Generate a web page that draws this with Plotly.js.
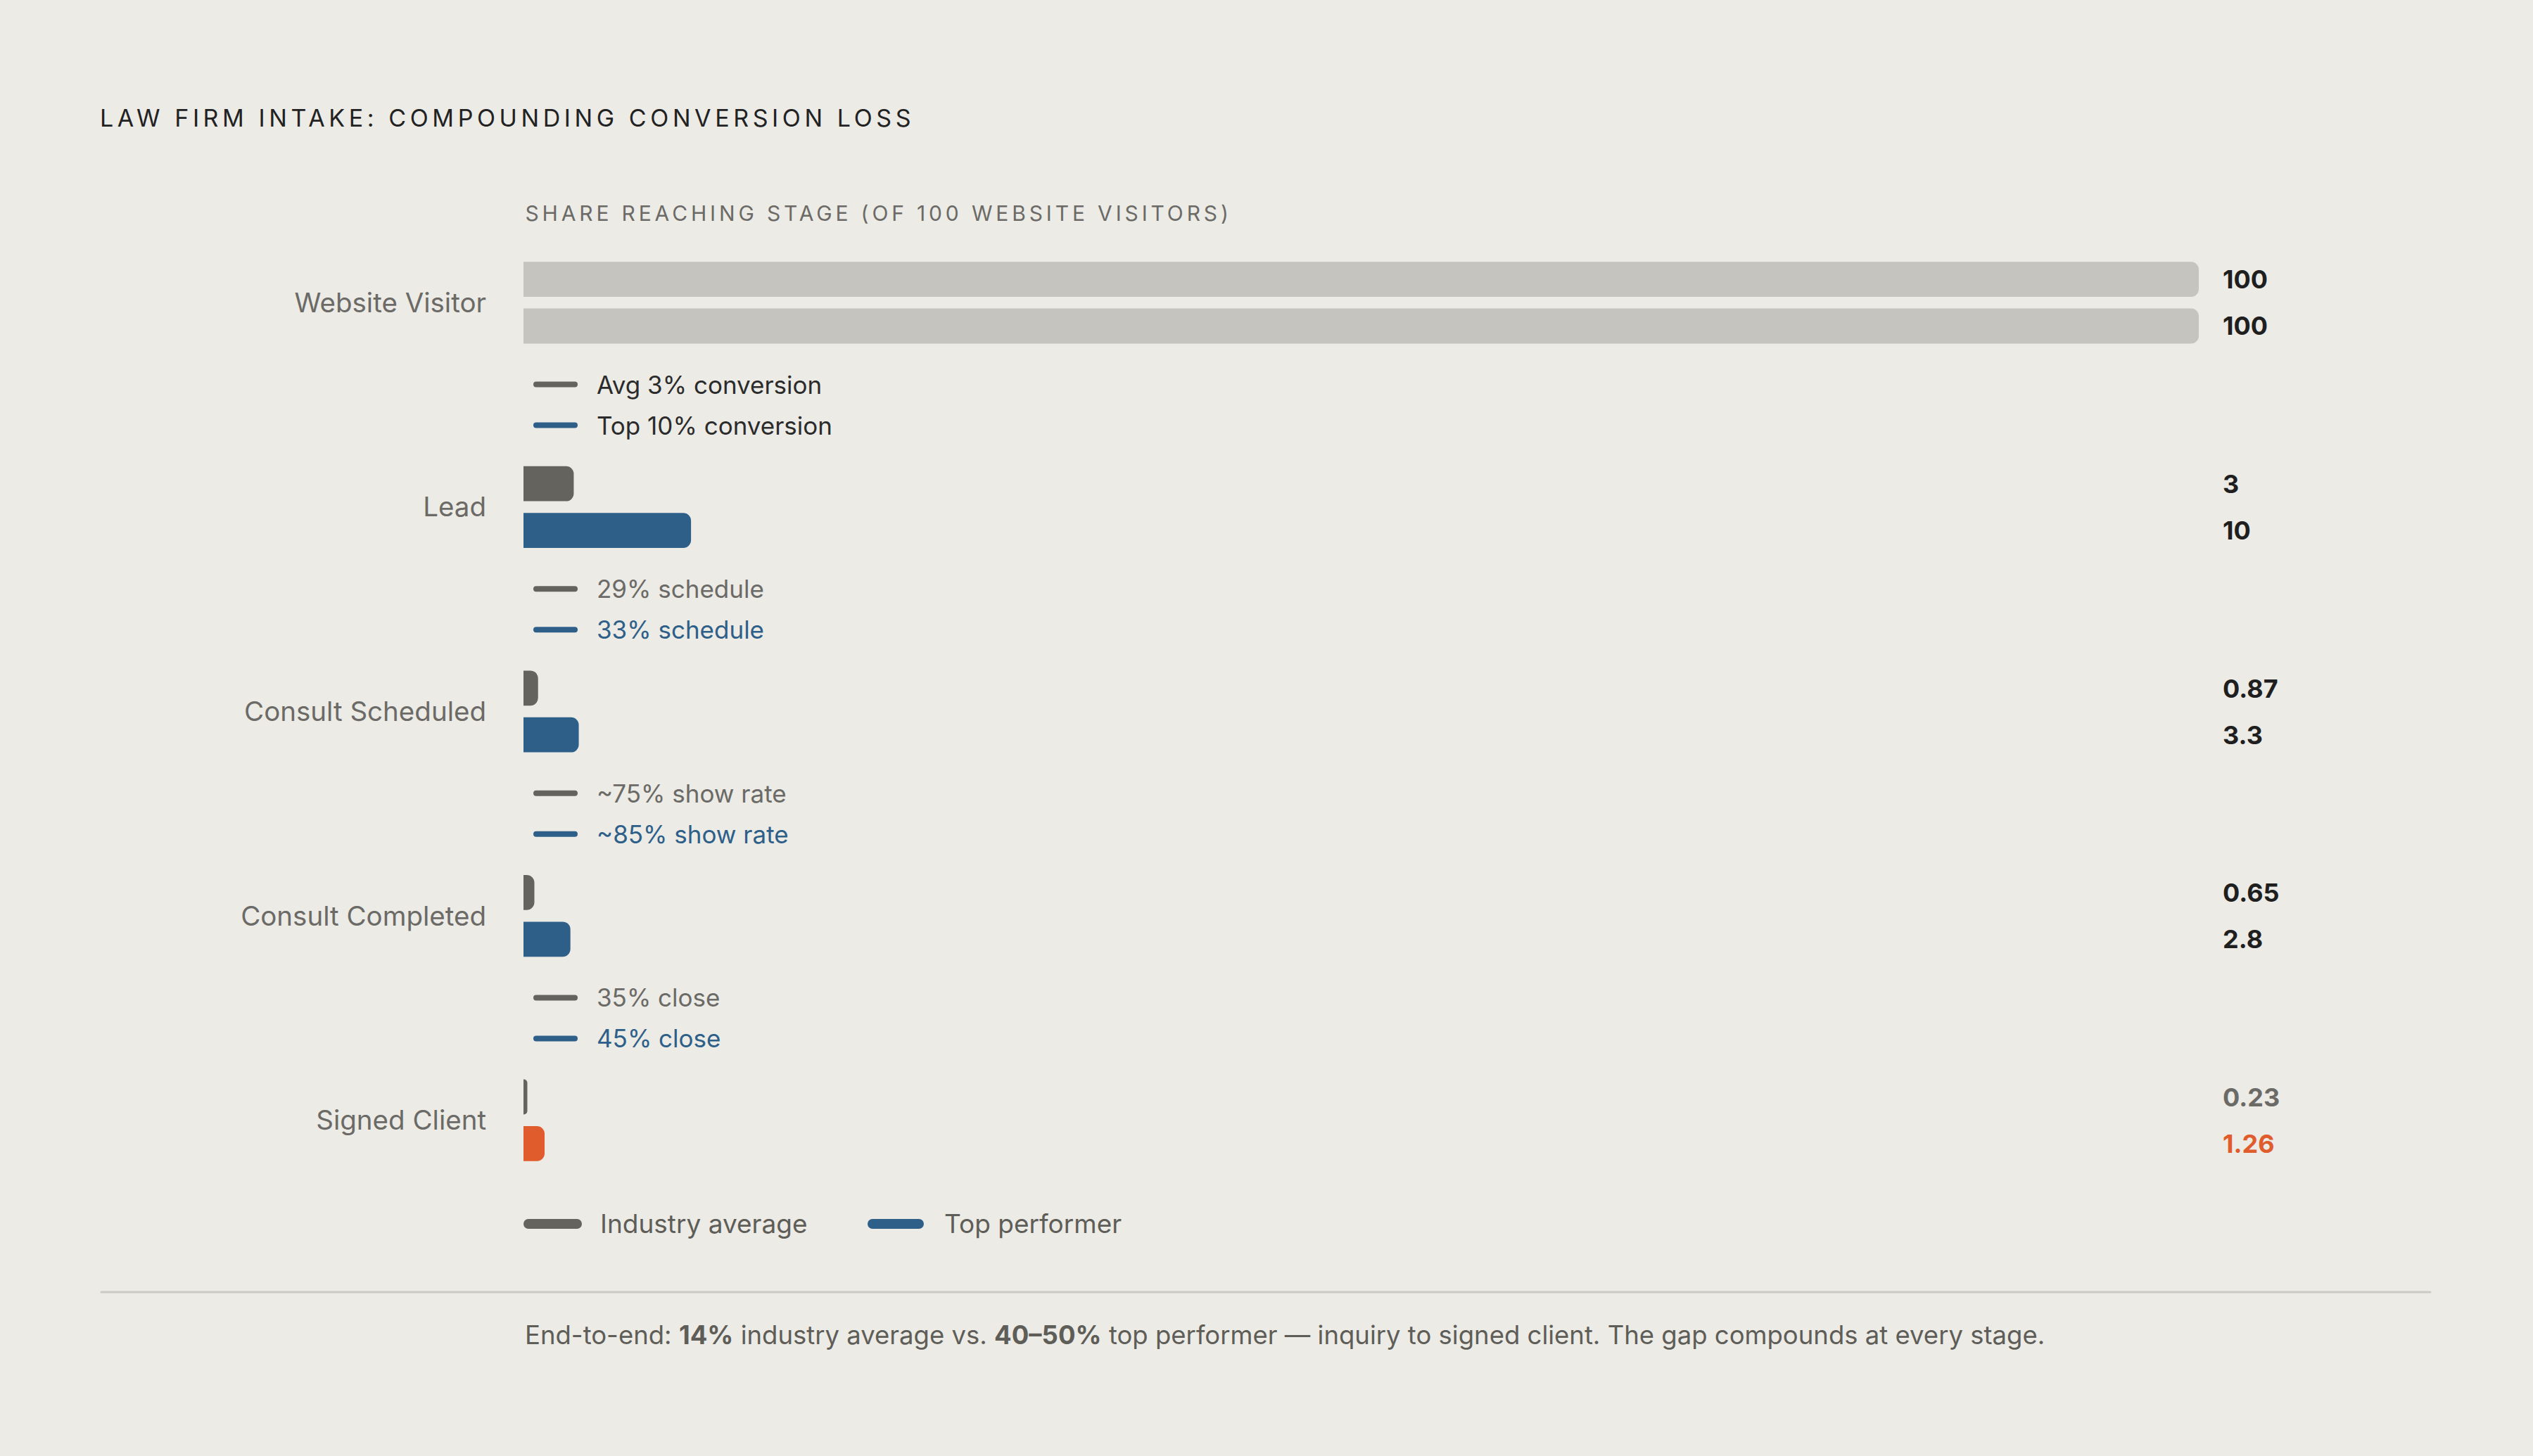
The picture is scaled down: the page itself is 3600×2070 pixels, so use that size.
<!DOCTYPE html>
<html>
<head>
<meta charset="utf-8">
<script src="https://cdn.plot.ly/plotly-3.0.1.min.js"></script>
<style>
  html, body { margin: 0; padding: 0; background: #ecebe6; }
  #plot { width: 3600px; height: 2070px; }
  .gtitle { letter-spacing: 5.6px; }
  .annotation[data-index="0"] text { letter-spacing: 4.85px; }
  .shapelayer path { stroke-linecap: round; }
</style>
</head>
<body>
<div id="plot"></div>
<script>
// funnel stages, share of 100 website visitors
var stages = ['Website Visitor', 'Lead', 'Consult Scheduled', 'Consult Completed', 'Signed Client'];
var industryAvg = [100, 3, 0.87, 0.65, 0.23];
var topPerformer = [100, 10, 3.3, 2.8, 1.26];
var seriesNames = ['Industry average', 'Top performer'];

// step conversion notes between stages
var avgSteps = ['Avg 3% conversion', '29% schedule', '~75% show rate', '35% close'];
var topSteps = ['Top 10% conversion', '33% schedule', '~85% show rate', '45% close'];

var W = 3600, H = 2070;
var L = 744, R = 3125, T = 285, B = 1738;

var BG = '#ecebe6';
var GRAY = '#64635d';
var BLUE = '#2e5f89';
var ORANGE = '#e05c2c';
var LIGHT = '#c5c4bf';
var TEXT = '#6b6a66';
var DARK = '#1f1f1f';
var FONT = 'Inter, "DejaVu Sans", sans-serif';

function px(x) { return (x - L) / (R - L); }
function py(y) { return (B - y) / (B - T); }

var last = stages.length - 1;
var avgColors = stages.map(function(s, i) { return i == 0 ? LIGHT : GRAY; });
var topColors = stages.map(function(s, i) { return i == 0 ? LIGHT : (i == last ? ORANGE : BLUE); });

var trace1 = {
    type: 'bar',
    orientation: 'h',
    y: stages,
    x: industryAvg,
    name: seriesNames[0],
    marker: { color: avgColors, cornerradius: 11 },
    hoverinfo: 'none',
    showlegend: false
};
var trace2 = {
    type: 'bar',
    orientation: 'h',
    y: stages,
    x: topPerformer,
    name: seriesNames[1],
    marker: { color: topColors, cornerradius: 11 },
    hoverinfo: 'none',
    showlegend: false
};

var annotations = [];
var shapes = [];

// letter-spacing widens the text around its centre, so push it back right
var subtitle = 'SHARE REACHING STAGE (OF 100 WEBSITE VISITORS)';
annotations.push({
    xref: 'paper', yref: 'paper', x: 0, y: py(303),
    xanchor: 'left', yanchor: 'middle', showarrow: false,
    xshift: subtitle.length * 4.85 / 2,
    text: subtitle,
    font: { family: FONT, size: 30, color: TEXT }
});

// value labels in a column right of the bars
for (var i = 0; i < stages.length; i++) {
    annotations.push({
        xref: 'x', yref: 'y', x: 100, y: i, xanchor: 'left', yanchor: 'middle',
        xshift: 32, yshift: 33, showarrow: false,
        text: '<b>' + industryAvg[i] + '</b>',
        font: { family: FONT, size: 36, color: i == last ? TEXT : DARK }
    });
    annotations.push({
        xref: 'x', yref: 'y', x: 100, y: i, xanchor: 'left', yanchor: 'middle',
        xshift: 32, yshift: -33, showarrow: false,
        text: '<b>' + topPerformer[i] + '</b>',
        font: { family: FONT, size: 36, color: i == last ? ORANGE : DARK }
    });
}

// conversion notes between stages
for (var j = 0; j < avgSteps.length; j++) {
    var first = j == 0;
    [[avgSteps[j], 29, GRAY, first ? '#2b2b2b' : TEXT], [topSteps[j], -29, BLUE, first ? '#2b2b2b' : BLUE]].forEach(function(n) {
        annotations.push({
            xref: 'x', yref: 'y', x: 0, y: j + 0.5, xanchor: 'left', yanchor: 'middle',
            xshift: 102, yshift: n[1], showarrow: false,
            text: n[0],
            font: { family: FONT, size: 35, color: n[3] }
        });
        shapes.push({
            type: 'line', xref: 'x', yref: 'y',
            xsizemode: 'pixel', ysizemode: 'pixel', xanchor: 0, yanchor: j + 0.5,
            x0: 18, x1: 73, y0: n[1], y1: n[1],
            line: { color: n[2], width: 8 }
        });
    });
}

// legend drawn by hand
[[seriesNames[0], GRAY, 751, 820, 851], [seriesNames[1], BLUE, 1240, 1306, 1340]].forEach(function(l) {
    shapes.push({
        type: 'line', xref: 'paper', yref: 'paper',
        x0: px(l[2]), x1: px(l[3]), y0: py(1740), y1: py(1740),
        line: { color: l[1], width: 14 }
    });
    annotations.push({
        xref: 'paper', yref: 'paper', x: px(l[4]), y: py(1739),
        xanchor: 'left', yanchor: 'middle', showarrow: false,
        text: l[0],
        font: { family: FONT, size: 37, color: '#5e5d58' }
    });
});

// footer rule + note
shapes.push({
    type: 'line', xref: 'paper', yref: 'paper',
    x0: px(144), x1: px(3454), y0: py(1837), y1: py(1837),
    line: { color: '#cbcac5', width: 3 }
});
annotations.push({
    xref: 'paper', yref: 'paper', x: 0, y: py(1898),
    xanchor: 'left', yanchor: 'middle', showarrow: false,
    text: 'End-to-end: <b>14%</b> industry average vs. <b>40–50%</b> top performer — inquiry to signed client. The gap compounds at every stage.',
    font: { family: FONT, size: 36.5, color: '#5e5d58' }
});

var layout = {
    width: W,
    height: H,
    paper_bgcolor: BG,
    plot_bgcolor: BG,
    margin: { l: L, r: W - R, t: T, b: H - B, pad: 0 },
    title: {
        text: 'LAW FIRM INTAKE: COMPOUNDING CONVERSION LOSS',
        xref: 'container', yref: 'container',
        x: 142 / W, xanchor: 'left',
        y: 1 - 168 / H, yanchor: 'middle',
        font: { family: FONT, size: 34, color: '#222222' }
    },
    barmode: 'group',
    bargap: 0.543,
    bargroupgap: 0.25,
    showlegend: false,
    xaxis: {
        range: [0, 100],
        showgrid: false, zeroline: false, showline: false,
        showticklabels: false, fixedrange: true
    },
    yaxis: {
        type: 'category',
        range: [4.5, -0.5],
        showgrid: false, zeroline: false, showline: false,
        ticks: '',
        ticklabelstandoff: 52,
        tickfont: { family: FONT, size: 38.5, color: TEXT },
        fixedrange: true
    },
    annotations: annotations,
    shapes: shapes
};

Plotly.newPlot('plot', [trace1, trace2], layout, { displayModeBar: false, staticPlot: true });
</script>
</body>
</html>
